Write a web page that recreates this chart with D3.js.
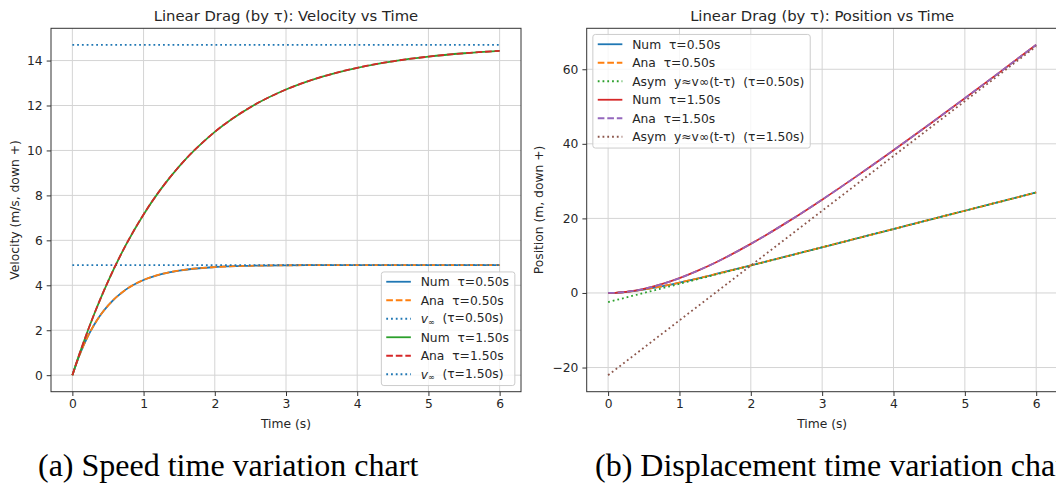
<!DOCTYPE html>
<html lang="en">
<head>
    <meta charset="utf-8">
    <script type="text/javascript" src="https://d3js.org/d3.v7.min.js"></script>
    <title>Linear Drag by tau</title>
    <style>
        html, body {
            margin: 0;
            padding: 0;
            background: white;
        }
        svg text {
            font-family: "DejaVu Sans", sans-serif;
            fill: #262626;
            white-space: pre;
        }
        .caption {
            font-family: "Liberation Serif", "Times New Roman", serif;
            fill: black;
        }
    </style>
</head>
<body>
<div id="chart"></div>
<script type="text/javascript">

    // ---------- DATA ----------
    const timeS = [0, 0.1, 0.2, 0.3, 0.4, 0.5, 0.75, 1, 1.25, 1.5, 2, 2.5, 3, 3.5, 4, 4.5, 5, 5.5, 6];

    // velocity, tau = 0.50 s and tau = 1.50 s
    const vel05 = [0, 0.888, 1.615, 2.211, 2.698, 3.097, 3.807, 4.237, 4.498, 4.656, 4.810, 4.867, 4.888, 4.896, 4.898, 4.899, 4.900, 4.900, 4.900];
    const vel15 = [0, 0.948, 1.835, 2.665, 3.441, 4.167, 5.784, 7.153, 8.312, 9.292, 10.825, 11.923, 12.711, 13.274, 13.678, 13.968, 14.175, 14.324, 14.431];
    const vTerminal = [4.9, 14.7];

    // position, tau = 0.50 s and tau = 1.50 s
    const pos05 = [0, 0.046, 0.172, 0.365, 0.611, 0.901, 1.772, 2.782, 3.876, 5.022, 7.395, 9.817, 12.256, 14.702, 17.151, 19.600, 22.050, 24.500, 26.950];
    const pos15 = [0, 0.048, 0.188, 0.412, 0.718, 1.099, 2.348, 3.971, 5.908, 8.112, 13.162, 18.865, 25.033, 31.539, 38.282, 45.198, 52.237, 59.364, 66.554];

    // asymptotes y = v_inf (t - tau), end points
    const asymTime = [0, 6];
    const asym05 = [-2.45, 26.95];
    const asym15 = [-22.05, 66.15];

    // tick labels
    const timeTicks = [0, 1, 2, 3, 4, 5, 6];
    const velTicks = [0, 2, 4, 6, 8, 10, 12, 14];
    const posTicks = [-20, 0, 20, 40, 60];

    // matplotlib tab10
    const C = ["#1f77b4", "#ff7f0e", "#2ca02c", "#d62728", "#9467bd", "#8c564b"];

    // Sizes
    const W = 1056, H = 484;
    const fs = 12.3;          // ticks / labels / legend
    const lw = 1.8;
    const DASH = `${3.7 * lw},${1.6 * lw}`;
    const DOT = `${1 * lw},${1.65 * lw}`;

    const svg = d3.select("#chart")
        .append("svg")
            .attr("width", W)
            .attr("height", H)
            .style("display", "block")
            .style("background", "white");

    // helper: pad an extent by 5% like matplotlib
    function padded(ext) {
        const d = (ext[1] - ext[0]) * 0.05;
        return [ext[0] - d, ext[1] + d];
    }

    function drawPanel(p) {
        const x = d3.scaleLinear().domain(padded([0, 6])).range([p.left, p.right]);
        const y = d3.scaleLinear().domain(padded(p.yExtent)).range([p.bottom, p.top]);

        const g = svg.append("g");

        g.append("clipPath").attr("id", p.id + "clip")
            .append("rect")
                .attr("x", p.left).attr("y", p.top)
                .attr("width", p.right - p.left).attr("height", p.bottom - p.top);

        // grid
        const grid = g.append("g").attr("stroke", "#d4d4d4").attr("stroke-width", 1);
        grid.selectAll(".gx").data(timeTicks).join("line")
            .attr("x1", d => x(d)).attr("x2", d => x(d))
            .attr("y1", p.top).attr("y2", p.bottom);
        grid.selectAll(".gy").data(p.yTicks).join("line")
            .attr("x1", p.left).attr("x2", p.right)
            .attr("y1", d => y(d)).attr("y2", d => y(d));

        // curves
        const plot = g.append("g").attr("clip-path", `url(#${p.id}clip)`);
        p.series.forEach(s => {
            const line = d3.line()
                .x((d, i) => x(s.t[i]))
                .y(d => y(d))
                .curve(d3.curveMonotoneX);
            plot.append("path")
                .attr("d", line(s.v))
                .attr("fill", "none")
                .attr("stroke", s.color)
                .attr("stroke-width", lw)
                .attr("stroke-dasharray", s.dash || null);
        });

        // frame
        g.append("rect")
            .attr("x", p.left).attr("y", p.top)
            .attr("width", p.right - p.left).attr("height", p.bottom - p.top)
            .attr("fill", "none").attr("stroke", "#333").attr("stroke-width", 1);

        // axes
        const xAxis = g.append("g")
            .attr("transform", `translate(0, ${p.bottom})`)
            .call(d3.axisBottom(x).tickValues(timeTicks).tickFormat(d3.format("d"))
                .tickSize(4.3).tickPadding(3.5));
        const yAxis = g.append("g")
            .attr("transform", `translate(${p.left}, 0)`)
            .call(d3.axisLeft(y).tickValues(p.yTicks).tickFormat(d3.format("d"))
                .tickSize(4.3).tickPadding(4));
        [xAxis, yAxis].forEach(a => {
            a.select(".domain").remove();
            a.selectAll("line").attr("stroke", "#333");
            a.selectAll("text").style("font-size", fs + "px").attr("fill", "#262626");
        });

        // title + labels
        const cx = (p.left + p.right) / 2;
        g.append("text")
            .attr("x", cx).attr("y", 20.5)
            .attr("text-anchor", "middle")
            .style("font-size", "14.8px")
            .text(p.title);
        g.append("text")
            .attr("x", cx).attr("y", 428)
            .attr("text-anchor", "middle")
            .style("font-size", fs + "px")
            .text("Time (s)");
        g.append("text")
            .attr("transform", `translate(${p.ylabelX}, ${(p.top + p.bottom) / 2}) rotate(-90)`)
            .attr("dy", "0.35em")
            .attr("text-anchor", "middle")
            .style("font-size", fs + "px")
            .text(p.ylabel);

        // legend
        const rowH = 18.5, padTop = 9.8, pad = 4.9, handle = 24.6, gap = 9.8;
        const leg = g.append("g");
        const box = leg.append("rect")
            .attr("rx", 2.5)
            .attr("fill", "white").attr("fill-opacity", 0.8)
            .attr("stroke", "#cccccc").attr("stroke-width", 1);
        const items = leg.selectAll(".item").data(p.series).join("g");
        items.append("line")
            .attr("x1", pad).attr("x2", pad + handle)
            .attr("y1", (d, i) => padTop + i * rowH).attr("y2", (d, i) => padTop + i * rowH)
            .attr("stroke", d => d.color).attr("stroke-width", lw)
            .attr("stroke-dasharray", d => d.dash || null);
        const labels = items.append("text")
            .attr("x", pad + handle + gap)
            .attr("y", (d, i) => padTop + i * rowH)
            .attr("dy", "0.36em")
            .style("font-size", fs + "px");
        labels.each(function(d) {
            const t = d3.select(this);
            if (d.vinf) {
                t.append("tspan").style("font-style", "italic").text("v");
                t.append("tspan").attr("dy", "0.2em").style("font-size", "8px").text("∞");
                t.append("tspan").attr("dy", "-0.2em").text("  " + d.label);
            } else {
                t.text(d.label);
            }
        });
        let maxW = 0;
        labels.each(function() { maxW = Math.max(maxW, this.getComputedTextLength()); });
        const bw = pad + handle + gap + maxW + pad + 1;
        const bh = padTop * 2 + (p.series.length - 1) * rowH + 1.5;
        box.attr("width", bw).attr("height", bh);
        const lx = p.legendAt === "lr" ? p.right - 6.15 - bw : p.left + 6.15;
        const ly = p.legendAt === "lr" ? p.bottom - 6.15 - bh : p.top + 6.15;
        leg.attr("transform", `translate(${lx}, ${ly})`);
    }

    // ---------- PANEL (a): VELOCITY ----------
    drawPanel({
        id: "vel",
        left: 51, right: 521, top: 28.3, bottom: 391.7,
        yExtent: [0, d3.max(vTerminal)],
        yTicks: velTicks,
        title: "Linear Drag (by τ): Velocity vs Time",
        ylabel: "Velocity (m/s, down +)",
        ylabelX: 15,
        legendAt: "lr",
        series: [
            {t: timeS, v: vel05, color: C[0], label: "Num  τ=0.50s"},
            {t: timeS, v: vel05, color: C[1], dash: DASH, label: "Ana  τ=0.50s"},
            {t: asymTime, v: [vTerminal[0], vTerminal[0]], color: C[0], dash: DOT, vinf: true, label: "(τ=0.50s)"},
            {t: timeS, v: vel15, color: C[2], label: "Num  τ=1.50s"},
            {t: timeS, v: vel15, color: C[3], dash: DASH, label: "Ana  τ=1.50s"},
            {t: asymTime, v: [vTerminal[1], vTerminal[1]], color: C[0], dash: DOT, vinf: true, label: "(τ=1.50s)"}
        ]
    });

    // ---------- PANEL (b): POSITION ----------
    drawPanel({
        id: "pos",
        left: 586.7, right: 1057.6, top: 28.3, bottom: 391.7,
        yExtent: [d3.min(asym15), d3.max(pos15)],
        yTicks: posTicks,
        title: "Linear Drag (by τ): Position vs Time",
        ylabel: "Position (m, down +)",
        ylabelX: 538.5,
        legendAt: "ul",
        series: [
            {t: timeS, v: pos05, color: C[0], label: "Num  τ=0.50s"},
            {t: timeS, v: pos05, color: C[1], dash: DASH, label: "Ana  τ=0.50s"},
            {t: asymTime, v: asym05, color: C[2], dash: DOT, label: "Asym  y≈v∞(t-τ)  (τ=0.50s)"},
            {t: timeS, v: pos15, color: C[3], label: "Num  τ=1.50s"},
            {t: timeS, v: pos15, color: C[4], dash: DASH, label: "Ana  τ=1.50s"},
            {t: asymTime, v: asym15, color: C[5], dash: DOT, label: "Asym  y≈v∞(t-τ)  (τ=1.50s)"}
        ]
    });

    // ---------- CAPTIONS ----------
    svg.append("text").attr("class", "caption")
        .attr("x", 38).attr("y", 476)
        .style("font-size", "32px")
        .text("(a) Speed time variation chart");
    svg.append("text").attr("class", "caption")
        .attr("x", 595).attr("y", 476)
        .style("font-size", "32px")
        .text("(b) Displacement time variation chart");

</script>
</body>
</html>
